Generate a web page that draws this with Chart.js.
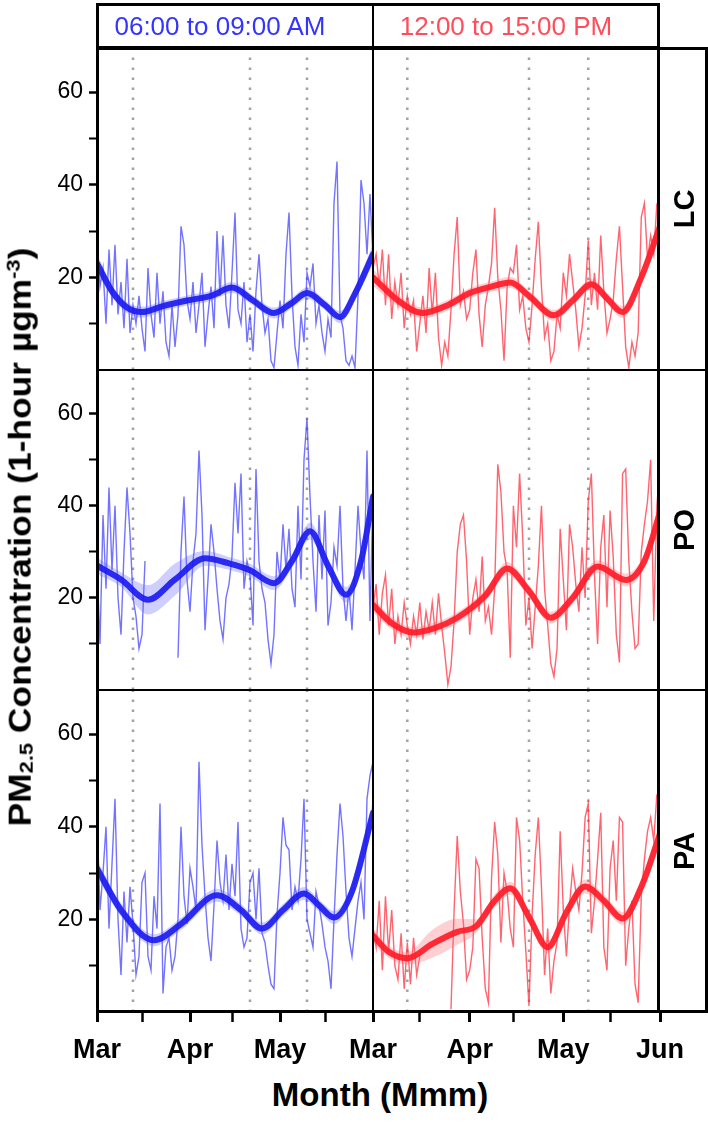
<!DOCTYPE html>
<html>
<head>
<meta charset="utf-8">
<script src="https://cdn.jsdelivr.net/npm/chart.js@4.4.1/dist/chart.umd.min.js"></script>
<style>
  body { margin: 0; background: #fff; width: 708px; height: 1122px; position: relative; overflow: hidden;
         font-family: "Liberation Sans", Arial, Helvetica, sans-serif; }
  canvas { position: absolute; }
  .box { position: absolute; box-sizing: border-box; border: 3px solid #000; z-index: 5; pointer-events: none; }
  .rule { position: absolute; background: #000; z-index: 5; }
  .txt { position: absolute; white-space: nowrap; z-index: 6; line-height: 1; }
  .rot { transform: translate(-50%, -50%) rotate(-90deg); }
  .ctr { transform: translate(-50%, -50%); }
  sub { font-size: 0.62em; vertical-align: -0.15em; }
  sup { font-size: 0.62em; vertical-align: 0.55em; }
</style>
</head>
<body>

<!-- header strip -->
<div class="box" style="left:96px; top:3px; width:564px; height:46px;"></div>
<div class="rule" style="left:372px; top:3px; width:2px; height:46px;"></div>
<div class="txt ctr" style="left:220px; top:26px; font-size:26px; color:#3434ff;">06:00 to 09:00 AM</div>
<div class="txt ctr" style="left:506px; top:26px; font-size:26px; color:#ff4d5a;">12:00 to 15:00 PM</div>

<!-- panel frame + right strip -->
<div class="box" style="left:96px; top:47px; width:564px; height:966px;"></div>
<div class="box" style="left:657px; top:47px; width:51px; height:966px;"></div>
<div class="rule" style="left:96px; top:369px; width:612px; height:2px;"></div>
<div class="rule" style="left:96px; top:689px; width:612px; height:2px;"></div>
<div class="rule" style="left:372px; top:47px; width:2px; height:966px;"></div>
<div class="txt rot" style="left:684px; top:209px; font-size:29px; font-weight:bold;">LC</div>
<div class="txt rot" style="left:684px; top:530px; font-size:29px; font-weight:bold;">PO</div>
<div class="txt rot" style="left:684px; top:851px; font-size:29px; font-weight:bold;">PA</div>

<!-- axis titles -->
<div class="txt" style="left:20px; top:537px; font-size:31px; font-weight:bold; transform: translate(-50%, -50%) rotate(-90deg) scaleX(1.14);">PM<sub>2.5</sub> Concentration (1-hour µgm<sup>-3</sup>)</div>
<div class="txt ctr" style="left:380px; top:1094px; font-size:33px; font-weight:bold;">Month (Mmm)</div>

<canvas id="lcAm"></canvas>
<canvas id="lcPm"></canvas>
<canvas id="poAm"></canvas>
<canvas id="poPm"></canvas>
<canvas id="paAm"></canvas>
<canvas id="paPm"></canvas>

<script>
// days since 1 March (0..92 = 1 Mar .. 1 Jun)
const days = Array.from({ length: 93 }, (_, i) => i);

const monthTickDays = [0, 15, 31, 45, 61, 76, 92];
const monthLabelsAm = ["Mar", "", "Apr", "", "May", "", ""];
const monthLabelsPm = ["Mar", "", "Apr", "", "May", "", "Jun"];
const yTickValues = [10, 20, 30, 40, 50, 60];
const yTickLabels = ["", "20", "", "40", "", "60"];

// dotted reference dates
const eventDaysAm = [12, 51, 70];
const eventDaysPm = [11, 50, 69];

// daily PM2.5 (µg m-3)
const lcAm = [28,18,22,10,26,14,27,12,19,9, 24,8,14,10,16,9,4,22,12,7, 21,10,17,6,3,14,5,12,31,27,
  15,11,19,8,14,21,5,12,18,9, 30,16,29,14,9,21,34,13,10,19, 6,12,4,17,25,14,8,11,2,0.5,
  8,15,9,25,34,16,5,1,12,6, 21,18,23,10,14,8,4,11,7,36, 45,12,9,2,1,3,0.5,16,41,36, 25,38,24];
const lcPm = [22,25,18,26,14,25,11,19,14,21, 9,16,12,15,4,10,16,8,22,12, 21,7,1,6,3,13,25,33,14,17,
  11,13,21,26,12,5,14,18,23,35, 20,13,2,18,22,21,27,13,16,9, 6,14,24,32,18,7,10,2,4,12,
  9,21,16,25,19,13,5,9,16,28, 14,21,13,29,17,8,11,15,24,31, 18,5,0.5,6,3,8,33,36,24,29, 25,36,30];
const poAm = [27,10,38,22,44,26,40,20,12,30, 44,34,20,16,9,12,28,null,null,null,
  null,null,null,null,null,null,null,7,30,42, 24,17,28,34,52,38,13,24,36,30,
  22,15,11,20,23,29,45,34,47,22, 28,25,14,48,28,22,19,11,5.7,12, 30,24,36,26,35,22,18,40,24,50,
  59,42,28,17,38,24,39,14,19,31, 27,40,22,15,22,13,26,40,30,24, 52,15,43];
const poPm = [18,23,12,21,25,14,22,10,16,12, 19,14,10,16,12,19,11,17,13,19, 12,21,14,8,1.2,5,15,30,36,38,
  28,12,20,24,17,29,15,18,12,22, 49,43,30,26,7,40,31,47,33,14, 20,9,18,27,40,22,14,5.7,2.9,9,
  35,24,13,36,31,23,17,31,20,41, 47,25,10,31,38,18,39,29,12,6, 47,48,28,17,9,10,30,36,41,50, 15,40,49];
const paAm = [42,22,30,40,18,32,46,20,8,26, 15,27,19,8,12,28,30,12,9,25, 18,45,4,14,16,9,12,20,40,25,
  19,31,27,22,54,36,25,16,11,23, 37,28,24,34,22,32,25,41,18,14, 16,28,30,20,31,17,15,10,6,5,
  21,30,42,36,35,22,27,24,33,46, 20,17,14,26,23,19,14,11,5,20, 34,45,38,26,16,12,18,24,28,20, 46,51,54];
const paPm = [18,14,24,9,25,13,22,10,7,17, 5,15,6,16,8,12,null,null,null,null,
  null,null,null,null,null,0.6,22,38,26,19, 7,9,14,33,31,16,5,2,29,41,
  34,15,30,26,18,14,42,37,24,13, 1.3,21,34,42,27,8,18,4,11,15, 39,22,12,23,31,26,22,30,42,45,
  17,24,33,43,14,9,31,37,24,42, 41,10,18,24,6,2,25,33,39,42, 37,47,40];

// smoothed trend (knot day, fitted value, half-width of confidence band)
const lcAmFitDays = [0, 5, 10, 15, 22, 30, 38, 45, 52, 59, 65, 70, 76, 81, 86, 92];
const lcAmFit     = [23, 17, 13.5, 12.5, 13.8, 15, 16, 17.8, 15, 12.3, 14.5, 16.6, 14, 11.4, 16.5, 25];
const lcAmSe      = [2, 1.3, 1.2, 1.2, 1.1, 1.1, 1.1, 1.2, 1.1, 1.2, 1.1, 1.2, 1.1, 1.3, 1.3, 2.2];
const lcPmFitDays = [0, 8, 16, 24, 31, 38, 44, 50, 58, 64, 70, 75, 80, 86, 92];
const lcPmFit     = [20, 15, 12.3, 14, 16.6, 18, 18.9, 16, 11.8, 15, 18.5, 15.5, 12.5, 20, 31];
const lcPmSe      = [1.8, 1.3, 1.2, 1.1, 1.1, 1.1, 1.2, 1.1, 1.2, 1.1, 1.2, 1.1, 1.3, 1.4, 2.3];
const poAmFitDays = [0, 8, 17, 26, 36, 44, 51, 59, 65, 71, 77, 83, 88, 92];
const poAmFit     = [27, 24, 19.6, 24, 28.6, 27.5, 26, 23.2, 28, 34.5, 27, 20.7, 28, 42];
const poAmSe      = [1.8, 1.6, 3.2, 3.5, 1.6, 1.4, 1.4, 1.5, 1.5, 1.8, 1.5, 1.7, 1.8, 2.6];
const poPmFitDays = [0, 6, 13, 20, 27, 36, 43, 50, 57, 64, 72, 81, 87, 92];
const poPmFit     = [18.5, 14.5, 12.5, 13.5, 15.7, 20.5, 26.4, 21.5, 15.7, 20, 26.8, 23.9, 28, 38.6];
const poPmSe      = [1.6, 1.3, 1.2, 1.2, 1.2, 1.3, 1.4, 1.3, 1.3, 1.3, 1.4, 1.4, 1.6, 2.5];
const paAmFitDays = [0, 8, 19, 28, 40, 48, 55, 62, 69, 74, 79, 85, 92];
const paAmFit     = [31, 22, 15.5, 19, 25.2, 22, 18, 22, 25.6, 23, 20.4, 26, 43];
const paAmSe      = [1.8, 1.4, 1.3, 1.3, 1.4, 1.3, 1.3, 1.3, 1.4, 1.3, 1.4, 1.5, 2.6];
const paPmFitDays = [0, 5, 11, 19, 27, 33, 39, 44, 50, 56, 62, 68, 74, 80, 86, 92];
const paPmFit     = [16.5, 13, 11.6, 14.7, 17.3, 18.5, 24, 26.7, 20.5, 14, 21.5, 27.1, 24, 20.2, 27, 38.5];
const paPmSe      = [1.6, 1.3, 1.4, 3, 2.8, 1.5, 1.4, 1.4, 1.4, 1.4, 1.4, 1.5, 1.4, 1.4, 1.6, 2.4];

const Y_MIN = 0, Y_MAX = 69.5;
const FONT = "'Liberation Sans', Arial, Helvetica, sans-serif";

const colors = {
  am: { thin: "rgba(55, 55, 255, 0.7)", fit: "rgba(28, 28, 240, 0.92)", band: "rgba(95, 95, 255, 0.3)" },
  pm: { thin: "rgba(255, 40, 55, 0.72)", fit: "rgba(255, 28, 40, 0.92)", band: "rgba(255, 105, 115, 0.32)" },
};

// panel rows / columns (page pixels)
const rowTop = [48, 370, 690];
const rowBottom = [370, 690, 1012];
const colLeft = [97, 373];
const colRight = [373, 660];
const PAD = 25, SIDE = 40, XAXIS_H = 62;

function pts(xs, ys) {
  return xs.map((x, i) => ({ x: x, y: ys[i] }));
}

function makePanel(id, row, col, noisy, fitDays, fit, se) {
  const isLeft = col === 0;
  const isBottom = row === 2;
  const c = isLeft ? colors.am : colors.pm;
  const events = isLeft ? eventDaysAm : eventDaysPm;
  const labels = isLeft ? monthLabelsAm : monthLabelsPm;

  const left = isLeft ? 0 : colLeft[col] - SIDE;
  const top = rowTop[row] - PAD;
  const width = colRight[col] + SIDE - left;
  const height = rowBottom[row] - rowTop[row] + PAD + (isBottom ? XAXIS_H : PAD);

  const canvas = document.getElementById(id);
  canvas.width = width;
  canvas.height = height;
  canvas.style.left = left + "px";
  canvas.style.top = top + "px";

  const upper = fit.map((v, i) => v + se[i]);
  const lower = fit.map((v, i) => v - se[i]);

  const datasets = events.map(d => ({
    data: [{ x: d, y: Y_MIN }, { x: d, y: Y_MAX }],
    borderColor: "#a2a2a2",
    borderWidth: 2.5,
    borderDash: [2.5, 7.5],
    pointRadius: 0,
    order: 6,
  }));
  datasets.push(
    { data: pts(days, noisy), borderColor: c.thin, borderWidth: 1.4, pointRadius: 0, tension: 0, order: 4 },
    { data: pts(fitDays, upper), borderWidth: 0, pointRadius: 0, cubicInterpolationMode: "monotone", fill: false, order: 3 },
    { data: pts(fitDays, lower), borderWidth: 0, pointRadius: 0, cubicInterpolationMode: "monotone",
      backgroundColor: c.band, fill: "-1", order: 3 },
    { data: pts(fitDays, fit), borderColor: c.fit, borderWidth: 6, pointRadius: 0,
      cubicInterpolationMode: "monotone", borderCapStyle: "round", order: 1 }
  );

  return new Chart(canvas, {
    type: "line",
    data: { datasets: datasets },
    options: {
      responsive: false,
      animation: false,
      devicePixelRatio: 1,
      layout: {
        padding: { left: isLeft ? 0 : SIDE, right: SIDE, top: PAD, bottom: isBottom ? 0 : PAD },
      },
      plugins: { legend: { display: false }, tooltip: { enabled: false } },
      scales: {
        x: {
          type: "linear",
          min: 0,
          max: 92,
          display: isBottom,
          afterBuildTicks: s => { s.ticks = monthTickDays.map(v => ({ value: v })); },
          afterFit: s => { if (isBottom) s.height = XAXIS_H; },
          border: { display: false },
          grid: {
            drawOnChartArea: false,
            drawTicks: true,
            tickLength: 10,
            tickColor: "#000",
            tickWidth: ctx => ([0, 31, 61, 92].includes(ctx.tick && ctx.tick.value) ? 3 : 2.5),
          },
          ticks: {
            autoSkip: false,
            maxRotation: 0,
            padding: 12,
            color: "#000",
            font: { family: FONT, size: 27, weight: "bold" },
            callback: (v, i) => labels[i],
          },
        },
        y: {
          min: Y_MIN,
          max: Y_MAX,
          display: isLeft,
          afterBuildTicks: s => { s.ticks = yTickValues.map(v => ({ value: v })); },
          afterFit: s => { if (isLeft) s.width = colLeft[0]; },
          border: { display: false },
          grid: {
            drawOnChartArea: false,
            drawTicks: true,
            tickLength: 8,
            tickColor: "#000",
            tickWidth: ctx => (ctx.tick && ctx.tick.value % 20 === 0 ? 2.5 : 2),
          },
          ticks: {
            padding: 6,
            color: "#000",
            font: { family: FONT, size: 23 },
            callback: (v, i) => yTickLabels[i],
          },
        },
      },
    },
  });
}

makePanel("lcAm", 0, 0, lcAm, lcAmFitDays, lcAmFit, lcAmSe);
makePanel("lcPm", 0, 1, lcPm, lcPmFitDays, lcPmFit, lcPmSe);
makePanel("poAm", 1, 0, poAm, poAmFitDays, poAmFit, poAmSe);
makePanel("poPm", 1, 1, poPm, poPmFitDays, poPmFit, poPmSe);
makePanel("paAm", 2, 0, paAm, paAmFitDays, paAmFit, paAmSe);
makePanel("paPm", 2, 1, paPm, paPmFitDays, paPmFit, paPmSe);
</script>
</body>
</html>
